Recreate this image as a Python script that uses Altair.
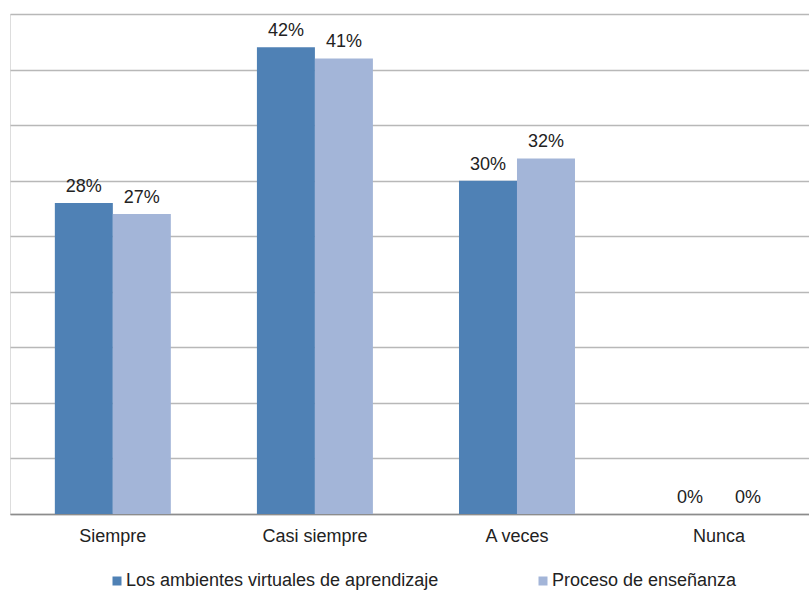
import altair as alt
import pandas as pd

categorias = ["Siempre", "Casi siempre", "A veces", "Nunca"]
series = ["Los ambientes virtuales de aprendizaje", "Proceso de enseñanza"]
ambientes = [28, 42, 30, 0]
proceso = [27, 41, 32, 0]
colores = ["#4f81b5", "#a3b5d8"]

rows = []
for i, c in enumerate(categorias):
    rows.append({"categoria": c, "serie": series[0], "valor": ambientes[i]})
    rows.append({"categoria": c, "serie": series[1], "valor": proceso[i]})
df = pd.DataFrame(rows)
df["etiqueta"] = df["valor"].astype(str) + "%"

FONT = "Liberation Sans"

x = alt.X(
    "categoria:N",
    sort=categorias,
    title=None,
    scale=alt.Scale(paddingInner=0.426, paddingOuter=0.19, align=0.584),
    axis=alt.Axis(
        labelAngle=0,
        labelFontSize=18,
        labelFont=FONT,
        labelColor="#222222",
        labelPadding=13,
        ticks=False,
        domainColor="#8c8c8c",
        domainWidth=1.5,
    ),
)
xoff = alt.XOffset("serie:N", sort=series, scale=alt.Scale(paddingInner=0, paddingOuter=0))
y = alt.Y(
    "valor:Q",
    title=None,
    scale=alt.Scale(domain=[0, 45], nice=False),
    axis=alt.Axis(
        values=list(range(0, 50, 5)),
        labels=False,
        ticks=False,
        domain=False,
        gridColor="#b8b8b8",
        gridWidth=1.5,
    ),
)

barras = alt.Chart(df).mark_bar().encode(
    x=x,
    xOffset=xoff,
    y=y,
    color=alt.Color(
        "serie:N",
        sort=series,
        scale=alt.Scale(domain=series, range=colores),
        legend=alt.Legend(
            title=None,
            orient="none",
            legendX=98,
            legendY=558,
            direction="horizontal",
            symbolType="square",
            symbolSize=81,
            symbolStrokeWidth=0,
            labelFontSize=18,
            labelFont=FONT,
            labelColor="#222222",
            labelLimit=500,
            columnPadding=95,
            symbolOffset=0,
            labelOffset=0,
            padding=0,
        ),
    ),
)

textos = alt.Chart(df).mark_text(
    baseline="alphabetic", dy=-11, fontSize=18, font=FONT, color="#222222"
).encode(
    x=x,
    xOffset=xoff,
    y=y,
    text="etiqueta:N",
)

chart = (
    alt.layer(barras, textos)
    .properties(
        width=799,
        height=500,
        padding={"left": 10, "top": 14, "right": 0, "bottom": 0},
    )
    .configure_view(stroke=None)
    .configure(background="white")
)

chart.save("out.html", embed_options={"renderer": "svg", "actions": False})
